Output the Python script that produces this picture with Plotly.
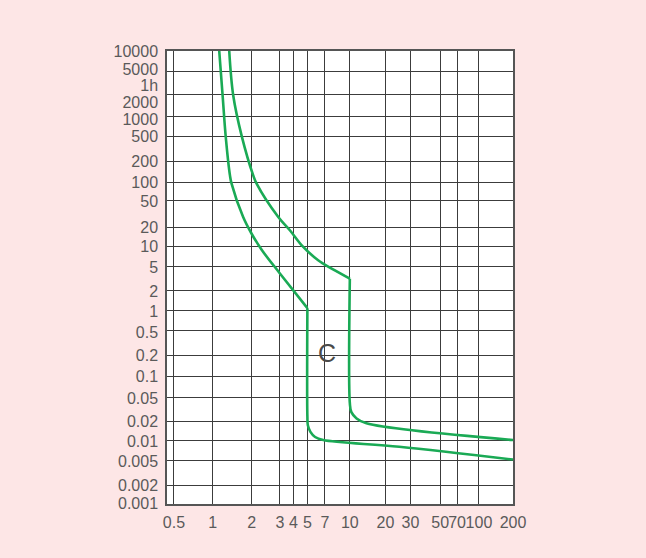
import numpy as np
import plotly.graph_objects as go

# ---------------- data ----------------
x_grid_values = [0.5, 1, 2, 3, 4, 5, 7, 10, 20, 30, 50, 70, 100, 200]
x_tick_labels = ["0.5", "1", "2", "3", "4", "5", "7", "10", "20", "30", "50", "70", "100", "200"]

y_grid_values = [10000, 5000, 2000, 1000, 500, 200, 100, 50, 20, 10, 5, 2, 1,
                 0.5, 0.2, 0.1, 0.05, 0.02, 0.01, 0.005, 0.002, 0.001]
y_tick_labels = ["10000", "5000", "1h", "2000", "1000", "500", "200", "100", "50", "20",
                 "10", "5", "2", "1", "0.5", "0.2", "0.1", "0.05", "0.02", "0.01",
                 "0.005", "0.002", "0.001"]

# lower (minimum) trip curve: I/In vs t(s)
lower_I_curve = [1.124, 1.194, 1.26, 1.36, 1.40, 1.72, 2.0, 2.32, 3.0, 5.0]
lower_t_curve = [10000, 1950, 505, 126, 94, 28.2, 15.7, 8.75, 3.9, 1.1]
lower_I_tail = [5.0, 5.0, 5.05, 5.3, 5.8, 6.78, 25.0, 200]
lower_t_tail = [1.1, 0.024, 0.017, 0.0135, 0.0112, 0.0100, 0.0080, 0.0052]

# upper (maximum) trip curve
upper_I_curve = [1.343, 1.442, 1.675, 2.046, 2.148, 2.93, 3.71, 4.68, 6.15, 6.78, 10.0]
upper_t_curve = [10000, 1950, 505, 126, 94, 28.2, 17.8, 9.77, 6.26, 5.6, 3.2]
upper_I_tail = [10.0, 10.0, 10.3, 11.4, 13.8, 200]
upper_t_tail = [3.2, 0.040, 0.0283, 0.0222, 0.0184, 0.010]

curve_label = "C"
curve_label_I, curve_label_t = 7.25, 0.22

# ---------------- layout of the (non-uniform) printed grid ----------------
x_grid_pos = [174, 212.7, 251.7, 280, 293.5, 307.5, 325, 350, 385.7, 410.7, 440.5, 457.3, 479.2, 513.3]
y_grid_pos = [50.5, 71, 94.3, 116, 135.7, 161.5, 181.7, 200, 226.7, 246, 266.7, 290.7, 310.7,
              330.7, 355, 376, 397.3, 421, 440, 460.7, 485.7, 504]
y_label_pos = [51, 68.5, 85, 101.5, 119, 135.7, 161.5, 181.7, 201, 226.7, 246, 267.5, 290.7, 310.7,
               332, 355, 376, 398.5, 421, 441, 461, 485.7, 503.5]
X_LEFT, X_RIGHT = 167, 513.3
Y_TOP, Y_BOTTOM = 50.5, 504


def map_x(v):
    return np.interp(np.log10(np.asarray(v, float)), np.log10(x_grid_values), x_grid_pos)


def map_y(v):
    lv = np.log10(np.asarray(v, float))
    xp = np.log10(y_grid_values)[::-1]
    fp = np.asarray(y_grid_pos)[::-1]
    return np.interp(lv, xp, fp)


GREEN = "#1aaa55"
TXT = "#5a5a5a"
GRID = "#3c3c3c"
FONT = "Liberation Sans"

fig = go.Figure()
for xs, ys in [(lower_I_curve, lower_t_curve), (lower_I_tail, lower_t_tail),
               (upper_I_curve, upper_t_curve), (upper_I_tail, upper_t_tail)]:
    fig.add_trace(go.Scatter(x=map_x(xs), y=map_y(ys), mode="lines",
                             line=dict(color=GREEN, width=2.6, shape="spline", smoothing=1.0),
                             hoverinfo="skip", showlegend=False))

fig.add_annotation(x=float(map_x(curve_label_I)), y=float(map_y(curve_label_t)), text=curve_label,
                   showarrow=False, font=dict(family=FONT, size=25, color="#4a4a4a"))
fig.add_annotation(x=97, y=285, xref="x", yref="y", text="t(s)", showarrow=False,
                   font=dict(family=FONT, size=21, color=TXT))
fig.add_annotation(x=567, y=518, xref="x", yref="y", text="I/In", showarrow=False,
                   font=dict(family=FONT, size=16, color=TXT))

fig.update_xaxes(range=[X_LEFT, X_RIGHT], tickmode="array", tickvals=x_grid_pos, ticktext=x_tick_labels,
                 tickangle=0,
                 showgrid=True, gridcolor=GRID, gridwidth=1, zeroline=False, ticks="",
                 showline=True, linecolor="#555", linewidth=1.5, mirror=True,
                 tickfont=dict(family=FONT, size=16, color=TXT), ticklabelstandoff=3,
                 fixedrange=True)
fig.update_yaxes(range=[Y_BOTTOM, Y_TOP], tickmode="array", tickvals=y_label_pos, ticktext=y_tick_labels,
                 showgrid=False, zeroline=False, ticks="",
                 minor=dict(tickmode="array", tickvals=y_grid_pos, showgrid=True,
                            gridcolor=GRID, gridwidth=1, ticks=""),
                 showline=True, linecolor="#555", linewidth=1.5, mirror=True,
                 tickfont=dict(family=FONT, size=16, color=TXT), ticklabelstandoff=4,
                 fixedrange=True)

fig.update_layout(width=646, height=558, autosize=False,
                  margin=dict(l=167, r=646 - 513.3, t=50.5, b=558 - 504),
                  paper_bgcolor="#fde6e6", plot_bgcolor="white")

fig.write_html("out.html", config={"displayModeBar": False},
               post_script="document.body.style.margin='0';")
